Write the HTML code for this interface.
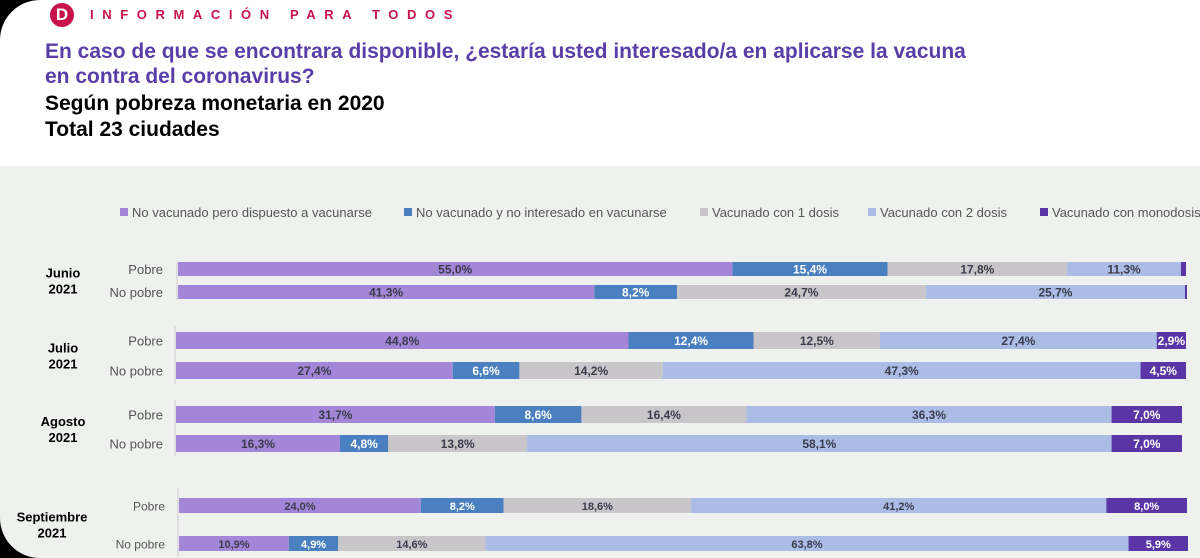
<!DOCTYPE html>
<html><head><meta charset="utf-8">
<style>
html,body{margin:0;padding:0}
body{width:1200px;height:558px;position:relative;overflow:hidden;background:#fff;font-family:"Liberation Sans",sans-serif}
.t{position:absolute;white-space:nowrap}
</style></head>
<body>
<div style="position:absolute;left:0;top:0;width:40px;height:40px;background:#000"></div>
<div style="position:absolute;left:0;top:0;width:80px;height:80px;background:#fff;border-top-left-radius:40px"></div>
<div style="position:absolute;left:50px;top:3px;width:24px;height:24px;border-radius:50%;background:#c8124a;color:#fff;font-weight:bold;font-size:17px;text-align:center;line-height:24px">D</div>
<div class="t" style="left:90px;top:7px;font-size:13px;font-weight:bold;letter-spacing:8.6px;color:#c8124a">INFORMACIÓN PARA TODOS</div>
<div class="t" style="left:45px;top:39px;font-size:21px;font-weight:bold;color:#5a3ea8;line-height:25px">En caso de que se encontrara disponible, ¿estaría usted interesado/a en aplicarse la vacuna<br>en contra del coronavirus?</div>
<div class="t" style="left:45px;top:91px;font-size:21px;font-weight:bold;color:#000;line-height:26px">Según pobreza monetaria en 2020<br>Total 23 ciudades</div>
<div style="position:absolute;left:0;top:166px;width:1200px;height:392px;background:#eef1ee"></div>
<div style="position:absolute;left:0;top:518px;width:40px;height:40px;background:#000"></div>
<div style="position:absolute;left:0;top:478px;width:80px;height:80px;background:#eef1ee;border-bottom-left-radius:40px"></div>
<svg id="chart" width="1200" height="558" style="position:absolute;left:0;top:0" font-family="Liberation Sans, sans-serif"></svg>
<script>
const seriesNames=["No vacunado pero dispuesto a vacunarse","No vacunado y no interesado en vacunarse","Vacunado con 1 dosis","Vacunado con 2 dosis","Vacunado con monodosis"];
const groups=["Junio|2021","Julio|2021","Agosto|2021","Septiembre|2021"];
const rows=["Pobre","No pobre"];
const dispuesto=[[55.0,41.3],[44.8,27.4],[31.7,16.3],[24.0,10.9]];
const noInteresado=[[15.4,8.2],[12.4,6.6],[8.6,4.8],[8.2,4.9]];
const unaDosis=[[17.8,24.7],[12.5,14.2],[16.4,13.8],[18.6,14.6]];
const dosDosis=[[11.3,25.7],[27.4,47.3],[36.3,58.1],[41.2,63.8]];
const monodosis=[[0.5,0.2],[2.9,4.5],[7.0,7.0],[8.0,5.9]];
const showLabel=[[true,true,true,true,false],[true,true,true,true,false],[true,true,true,true,true],[true,true,true,true,true],[true,true,true,true,true],[true,true,true,true,true],[true,true,true,true,true],[true,true,true,true,true]];

const colors=["#a486d8","#4a80c0","#c9c6c9","#abbde6","#5a35a6"];
const labelColors=["#3b3b4c","#ffffff","#3b3b4c","#3b3b4c","#ffffff"];
const groupX0=[178,176,176,179];
const pxPerG=[10.08,10.1,10.06,10.08];
const rowY=[[262,285],[332,362],[406,435],[498,536]];
const barH=[[14,14],[17,17],[17,17],[15,15]];
const groupY=[[261,300],[326,384],[400,456],[488,556]];
const svg=document.getElementById('chart');
const NS='http://www.w3.org/2000/svg';
function mk(tag,attrs){const e=document.createElementNS(NS,tag);for(const k in attrs)e.setAttribute(k,attrs[k]);svg.appendChild(e);return e;}
function xScale(g,v){return groupX0[g]+v*pxPerG[g];}
const all=[dispuesto,noInteresado,unaDosis,dosDosis,monodosis];
const legX=[120,404,700,868,1040];
seriesNames.forEach((n,i)=>{
  const r=mk('rect',{x:legX[i],y:208,width:8,height:8,fill:colors[i]});
  
  
  const t=mk('text',{x:legX[i]+12,y:217,'font-size':13,fill:'#555'});t.textContent=n;
  
  
});
groups.forEach((g,gi)=>{
  const ax=mk('line',{x1:groupX0[gi]-1,x2:groupX0[gi]-1,y1:groupY[gi][0],y2:groupY[gi][1],stroke:'#ccc','stroke-width':1});
  
  
  const parts=g.split('|');
  const cy=(rowY[gi][0]+rowY[gi][1]+barH[gi][1])/2;
  parts.forEach((p,pi)=>{
    const t=mk('text',{x:gi==3?52:63,y:cy-3+pi*16,'font-size':13,'font-weight':'bold','text-anchor':'middle',fill:'#000'});
    t.textContent=p;
    
    
  });
  rows.forEach((rn,ri)=>{
    const y=rowY[gi][ri],h=barH[gi][ri];
    const t=mk('text',{x:gi==3?165:163,y:y+h/2+5,'font-size':gi==3?12:13,'text-anchor':'end',fill:'#555'});
    t.textContent=rn;
    
    
    let cum=0;
    all.forEach((s,si)=>{
      const v=s[gi][ri];
      const x1=xScale(gi,cum),x2=xScale(gi,cum+v);
      const r=mk('rect',{x:x1,y:y,width:Math.max(0,x2-x1),height:h,fill:colors[si]});
      
      
      if(showLabel[gi*2+ri][si]){
        const lt=mk('text',{x:(x1+x2)/2,y:y+h/2+4.5,'font-size':gi==3?11:12,'font-weight':'bold','text-anchor':'middle',fill:labelColors[si]});
        lt.textContent=v.toFixed(1).replace('.',',')+'%';
        
        
      }
      cum+=v;
    });
  });
});
</script>
</body></html>
